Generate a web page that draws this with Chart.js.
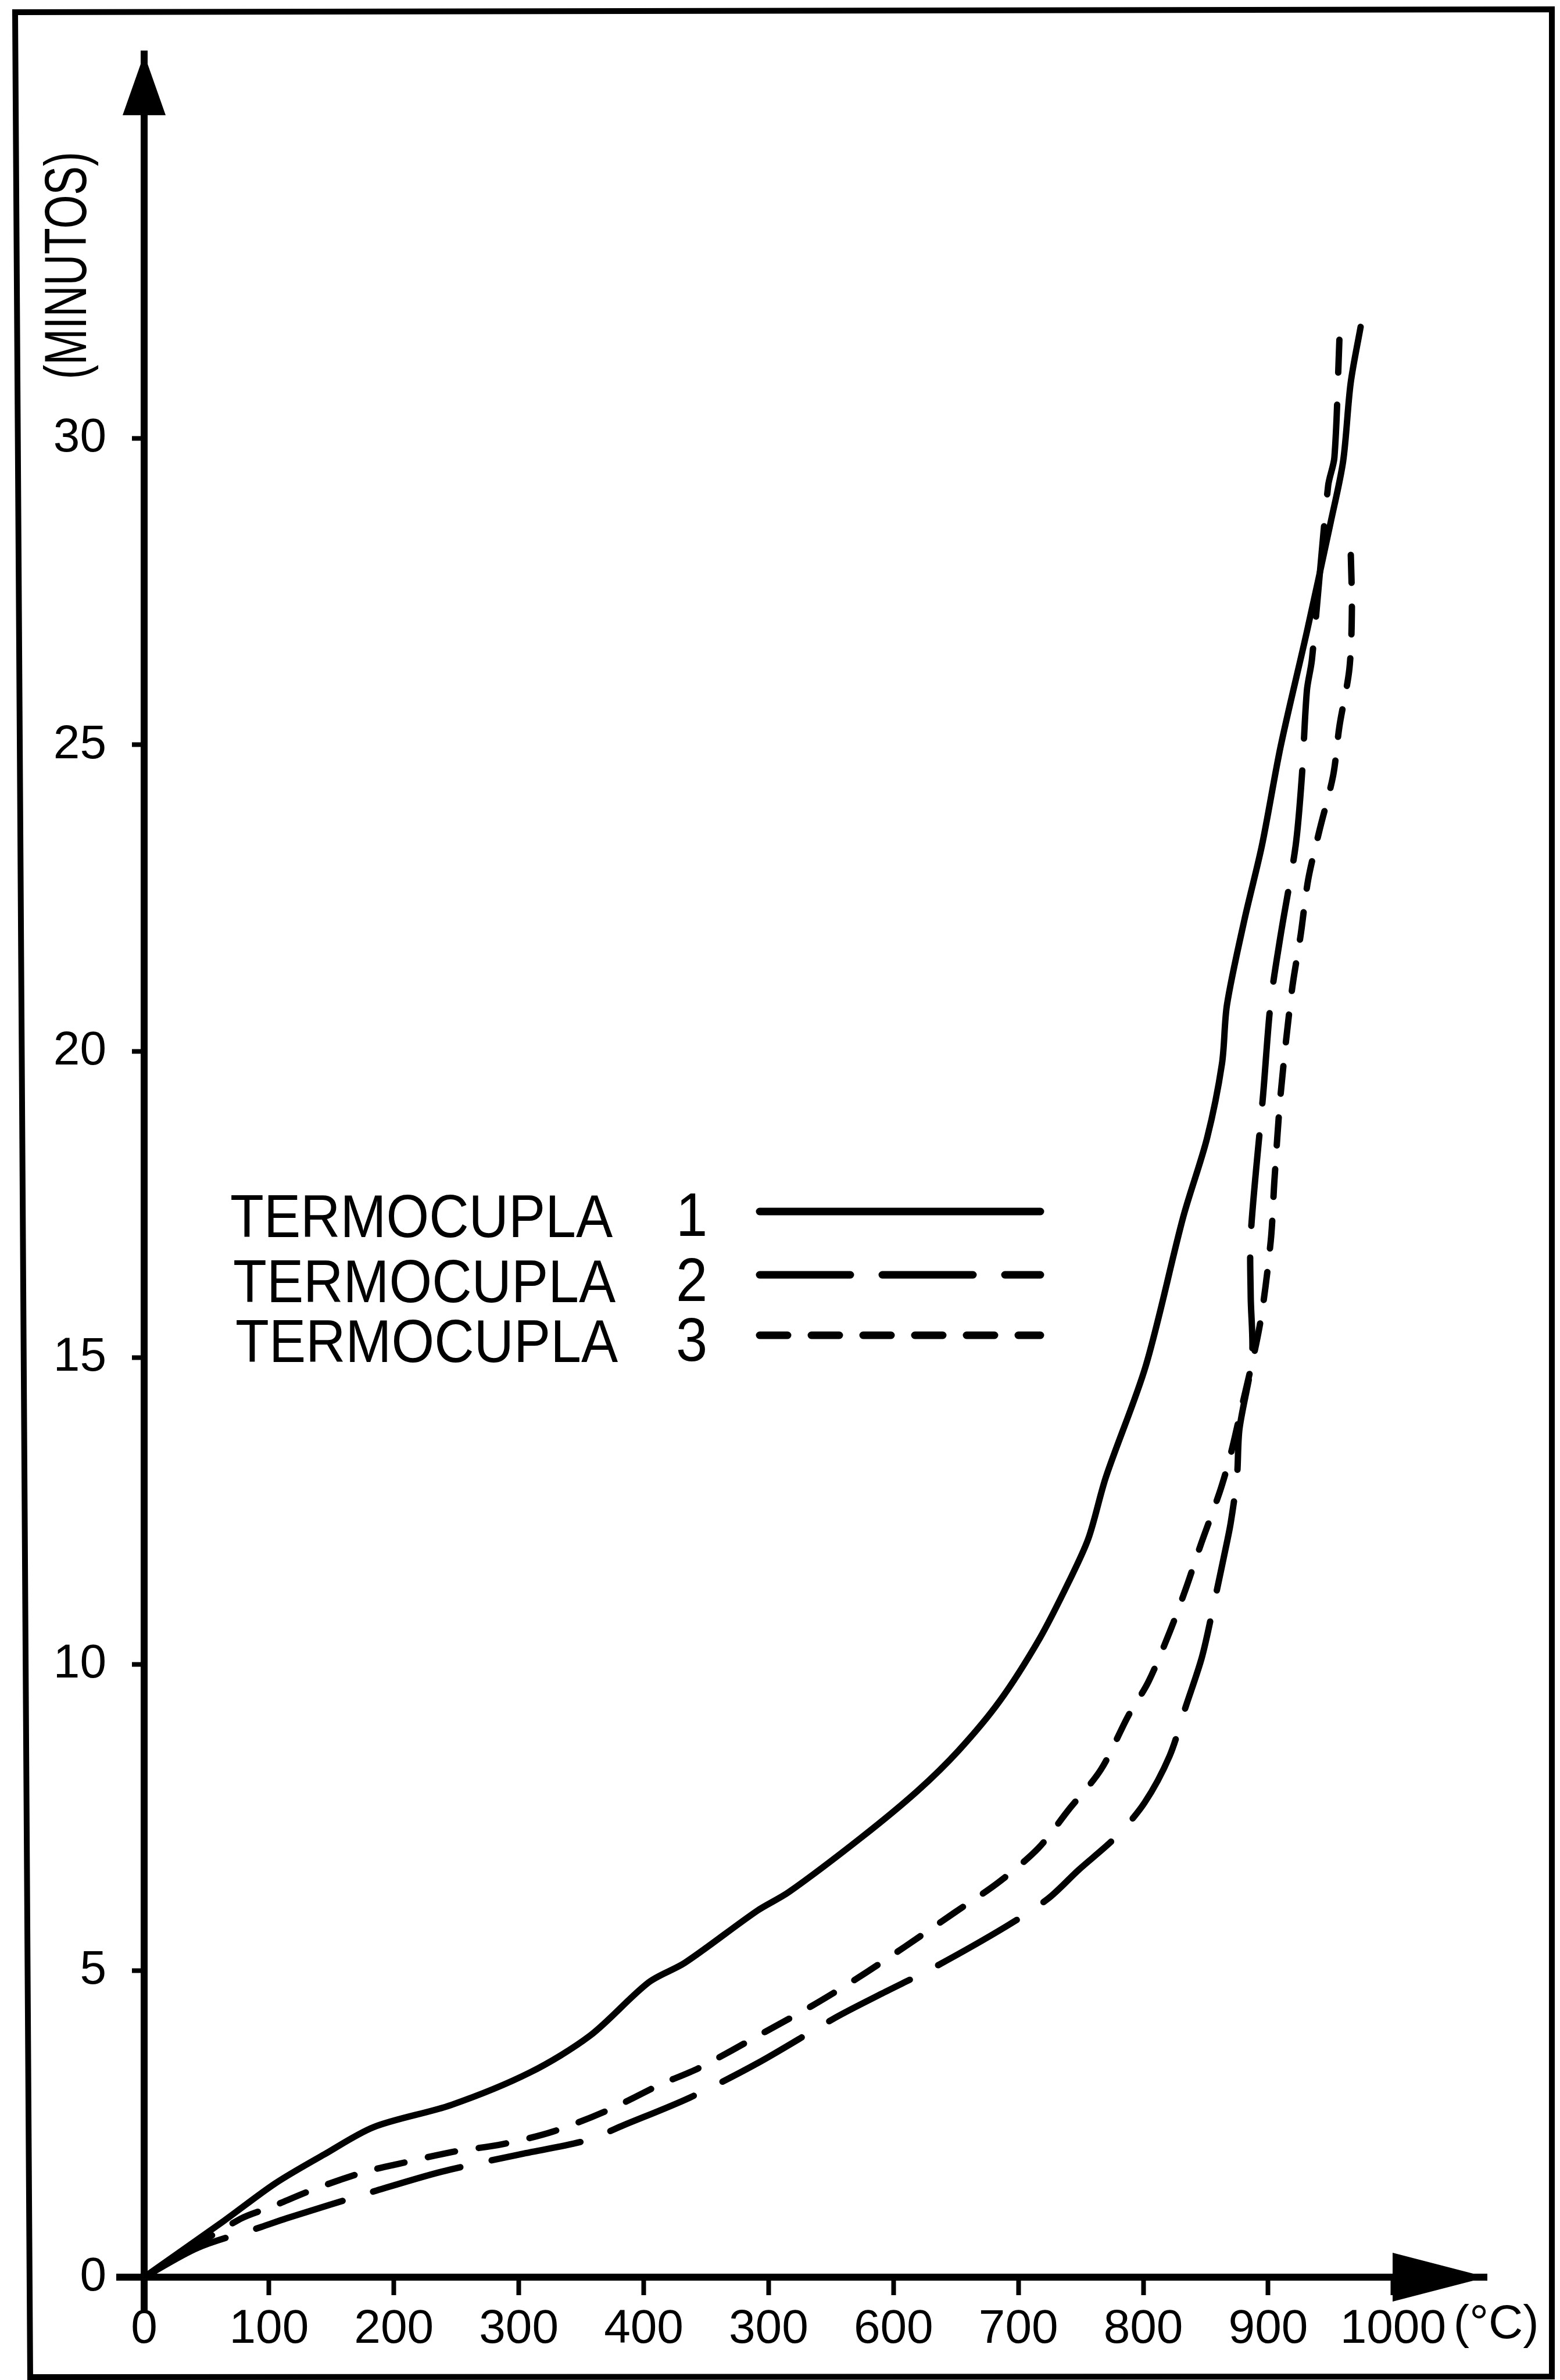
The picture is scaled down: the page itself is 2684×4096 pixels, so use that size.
<!DOCTYPE html>
<html>
<head>
<meta charset="utf-8">
<title>Termocuplas - tiempo / temperatura</title>
<script src="https://cdn.jsdelivr.net/npm/chart.js"></script>
<style>
    html, body { margin: 0 ; padding: 0 ; background: #fff ; }
    canvas { display: block ; }
</style>
</head>
<body>
<canvas id="tempGraph" width="2684" height="4096"></canvas>
<script>
// ---------------- Data -------------------------------------------------
const seriesLabels = [ 'TERMOCUPLA 1', 'TERMOCUPLA 2', 'TERMOCUPLA 3' ] ;

// temperature (°C) against time (minutes)
const temp1 = [ 0, 64, 105, 144, 184, 246, 309, 357, 404, 433, 491, 516, 574, 619, 652, 685, 717, 740, 756, 770,
                802, 832, 851, 863, 867, 881, 895, 910, 931, 950, 960, 966, 974 ] ;
const mins1 = [ 0, 0.92, 1.53, 2.0, 2.45, 2.81, 3.34, 3.94, 4.81, 5.13, 5.98, 6.28, 7.17, 7.93, 8.59, 9.4, 10.42, 11.33, 12.05, 13.05,
                14.87, 17.3, 18.58, 19.8, 20.76, 22.15, 23.36, 24.98, 26.85, 28.63, 29.63, 30.9, 31.82 ] ;

const temp2 = [ 0, 43, 94, 114, 184, 238, 300, 354, 384, 437, 491, 554, 591, 633, 690, 724, 748, 778, 801, 821,
                834, 847, 857, 865, 870, 875, 877, 887, 886, 886, 896, 902, 910, 922, 927, 931, 935, 948, 953, 957 ] ;
const mins2 = [ 0, 0.48, 0.82, 0.96, 1.40, 1.72, 2.0, 2.23, 2.48, 2.93, 3.49, 4.24, 4.63, 5.06, 5.72, 6.18, 6.64, 7.18, 7.74, 8.5,
                9.31, 10.12, 11.03, 11.8, 12.31, 13.06, 13.84, 15.0, 16.0, 17.0, 19.31, 20.8, 21.9, 23.36, 24.5, 25.89, 26.39, 29.23, 29.69, 31.61 ] ;

const temp3 = [ 0, 77, 101, 138, 177, 202, 246, 287, 328, 372, 413, 444, 497, 535, 572, 609, 649, 684, 716, 740,
                766, 788, 804, 821, 834, 846, 861, 869, 876, 893, 902, 905, 910, 919, 926, 932, 941, 952, 957, 965, 967, 966 ] ;
const mins3 = [ 0, 0.95, 1.14, 1.45, 1.72, 1.84, 2.04, 2.17, 2.38, 2.73, 3.14, 3.41, 4.0, 4.43, 4.89, 5.39, 5.95, 6.44, 7.0, 7.62,
                8.28, 9.16, 9.71, 10.52, 11.23, 11.95, 12.8, 13.35, 13.95, 15.5, 16.9, 17.9, 19.31, 21.0, 21.9, 22.8, 23.6, 24.5, 25.3, 26.24, 27.21, 28.22 ] ;

const xTicks      = [ 0, 100, 200, 300, 400, 500, 600, 700, 800, 900, 1000 ] ;
const xTickLabels = [ '0', '100', '200', '300', '400', '300', '600', '700', '800', '900', '1000' ] ;
const yTicks      = [ 0, 5, 10, 15, 20, 25, 30 ] ;
const yTickLabels = [ '0', '5', '10', '15', '20', '25', '30' ] ;
const xUnit  = '(°C)' ;
const yTitle = '(MINUTOS)' ;

// ---------------- Local variables --------------------------------------
const FONT = "'Liberation Sans', Arial, sans-serif" ;
const INK  = '#000' ;

function points( xs, ys ) {
    return xs.map( ( x, i ) => ( { x: x, y: ys[i] } ) ) ;
}

// condensed text helper (the lettering of the original is narrow)
function narrowText( ctx, text, x, y, size, squeeze, align ) {
    ctx.save() ;
    ctx.font = size + 'px ' + FONT ;
    ctx.textAlign = align || 'left' ;
    ctx.textBaseline = 'alphabetic' ;
    ctx.translate( x, y ) ;
    ctx.scale( squeeze, 1 ) ;
    ctx.fillText( text, 0, 0 ) ;
    ctx.restore() ;
}

// ---------------- Plugin: paper, arrows, titles, legend -----------------
const paperPlugin = {
    id: 'paperPlugin',
    beforeDraw( chart ) {
        const ctx = chart.ctx ;
        ctx.save() ;
        ctx.fillStyle = '#fff' ;
        ctx.fillRect( 0, 0, chart.width, chart.height ) ;
        // frame of the scanned sheet
        ctx.strokeStyle = INK ;
        ctx.lineWidth = 10 ;
        ctx.beginPath() ;
        ctx.moveTo( 26, 21 ) ;
        ctx.lineTo( 2670, 16 ) ;
        ctx.lineTo( 2670, 4090 ) ;
        ctx.lineTo( 52, 4091 ) ;
        ctx.closePath() ;
        ctx.stroke() ;
        ctx.restore() ;
    },
    afterDraw( chart ) {
        const ctx  = chart.ctx ;
        const area = chart.chartArea ;
        const xs   = chart.scales.x ;
        const ys   = chart.scales.y ;
        const x0   = xs.getPixelForValue( 0 ) ;
        const y0   = ys.getPixelForValue( 0 ) ;

        ctx.save() ;
        ctx.fillStyle = INK ;
        ctx.strokeStyle = INK ;

        // axis stubs running past the origin
        ctx.lineWidth = 12 ;
        ctx.beginPath() ;
        ctx.moveTo( x0, y0 ) ; ctx.lineTo( x0, y0 + 62 ) ;
        ctx.moveTo( x0, y0 ) ; ctx.lineTo( x0 - 48, y0 ) ;
        ctx.stroke() ;

        // arrow heads at the ends of both axes
        ctx.beginPath() ;
        ctx.moveTo( x0, area.top ) ;
        ctx.lineTo( x0 + 37, area.top + 105 ) ;
        ctx.lineTo( x0 - 37, area.top + 105 ) ;
        ctx.closePath() ;
        ctx.fill() ;

        ctx.beginPath() ;
        ctx.moveTo( area.right, y0 ) ;
        ctx.lineTo( area.right - 162, y0 - 42 ) ;
        ctx.lineTo( area.right - 162, y0 + 42 ) ;
        ctx.closePath() ;
        ctx.fill() ;

        // y title, read bottom to top
        ctx.save() ;
        ctx.translate( 111, 457 ) ;
        ctx.rotate( -Math.PI / 2 ) ;
        narrowText( ctx, yTitle, 0, 37, 102, 0.73, 'center' ) ;
        ctx.restore() ;

        // unit after the last x label
        const x1000 = xs.getPixelForValue( 1000 ) ;
        narrowText( ctx, xUnit, x1000 + 104, 4024, 82, 1, 'left' ) ;

        // legend: label, number, line sample
        const rowBase = [ 2129, 2241, 2344 ] ;
        const rowLine = [ 2085, 2194, 2298 ] ;
        const rowLeft = [ 396, 401, 405 ] ;
        chart.data.datasets.forEach( function( ds, i ) {
            const parts = ds.label.split( ' ' ) ;
            narrowText( ctx, parts[0], rowLeft[i], rowBase[i], 103, 0.92, 'left' ) ;
            narrowText( ctx, parts[1], 1190, rowBase[i] - 2, 106, 0.92, 'center' ) ;
            ctx.save() ;
            ctx.lineWidth = ds.borderWidth + 2 ;
            ctx.lineCap = 'round' ;
            ctx.setLineDash( ds.borderDash || [] ) ;
            ctx.beginPath() ;
            ctx.moveTo( 1307, rowLine[i] ) ;
            ctx.lineTo( 1790, rowLine[i] ) ;
            ctx.stroke() ;
            ctx.restore() ;
        } ) ;

        ctx.restore() ;
    }
} ;

// ---------------- Chart ------------------------------------------------
function drawChart() {
    const ctx = document.getElementById( 'tempGraph' ).getContext( '2d' ) ;

    const lineStyle = {
        borderColor: INK,
        borderWidth: 11,
        borderCapStyle: 'round',
        borderJoinStyle: 'round',
        pointRadius: 0,
        tension: 0.3,
        fill: false
    } ;

    const axisCommon = {
        type: 'linear',
        border: { display: true, color: INK, width: 12 },
        grid: {
            display: true,
            drawOnChartArea: false,
            drawTicks: true,
            color: INK,
            tickColor: INK
        }
    } ;

    new Chart( ctx, {
        type: 'line',
        data: {
            datasets: [
                Object.assign( { label: seriesLabels[0], data: points( temp1, mins1 ) }, lineStyle ),
                Object.assign( { label: seriesLabels[1], data: points( temp2, mins2 ), borderDash: [ 156, 55 ] }, lineStyle ),
                Object.assign( { label: seriesLabels[2], data: points( temp3, mins3 ), borderDash: [ 48, 41 ] }, lineStyle )
            ]
        },
        options: {
            responsive: false,
            devicePixelRatio: 1,
            animation: false,
            layout: { padding: { left: 0, top: 67, right: 126, bottom: 0 } },
            plugins: {
                legend: { display: false },
                tooltip: { enabled: false },
                title: { display: false }
            },
            scales: {
                x: Object.assign( {}, axisCommon, {
                    min: 0,
                    max: 1075,
                    grid: Object.assign( {}, axisCommon.grid, { tickLength: 31, tickWidth: 8 } ),
                    afterBuildTicks: function( scale ) {
                        scale.ticks = xTicks.map( v => ( { value: v } ) ) ;
                    },
                    afterFit: function( scale ) { scale.height = 177 ; },
                    ticks: {
                        color: INK,
                        padding: 10,
                        maxRotation: 0,
                        autoSkip: false,
                        font: { family: FONT, size: 82 },
                        callback: function( value ) { return xTickLabels[ xTicks.indexOf( value ) ] ; }
                    }
                } ),
                y: Object.assign( {}, axisCommon, {
                    min: 0,
                    max: 36.27,
                    grid: Object.assign( {}, axisCommon.grid, { tickLength: 21, tickWidth: 8 } ),
                    afterBuildTicks: function( scale ) {
                        scale.ticks = yTicks.map( v => ( { value: v } ) ) ;
                    },
                    afterFit: function( scale ) { scale.width = 248 ; },
                    ticks: {
                        color: INK,
                        padding: 44,
                        autoSkip: false,
                        font: { family: FONT, size: 82 },
                        callback: function( value ) { return yTickLabels[ yTicks.indexOf( value ) ] ; }
                    }
                } )
            }
        },
        plugins: [ paperPlugin ]
    } ) ;
}

drawChart() ;
</script>
</body>
</html>
